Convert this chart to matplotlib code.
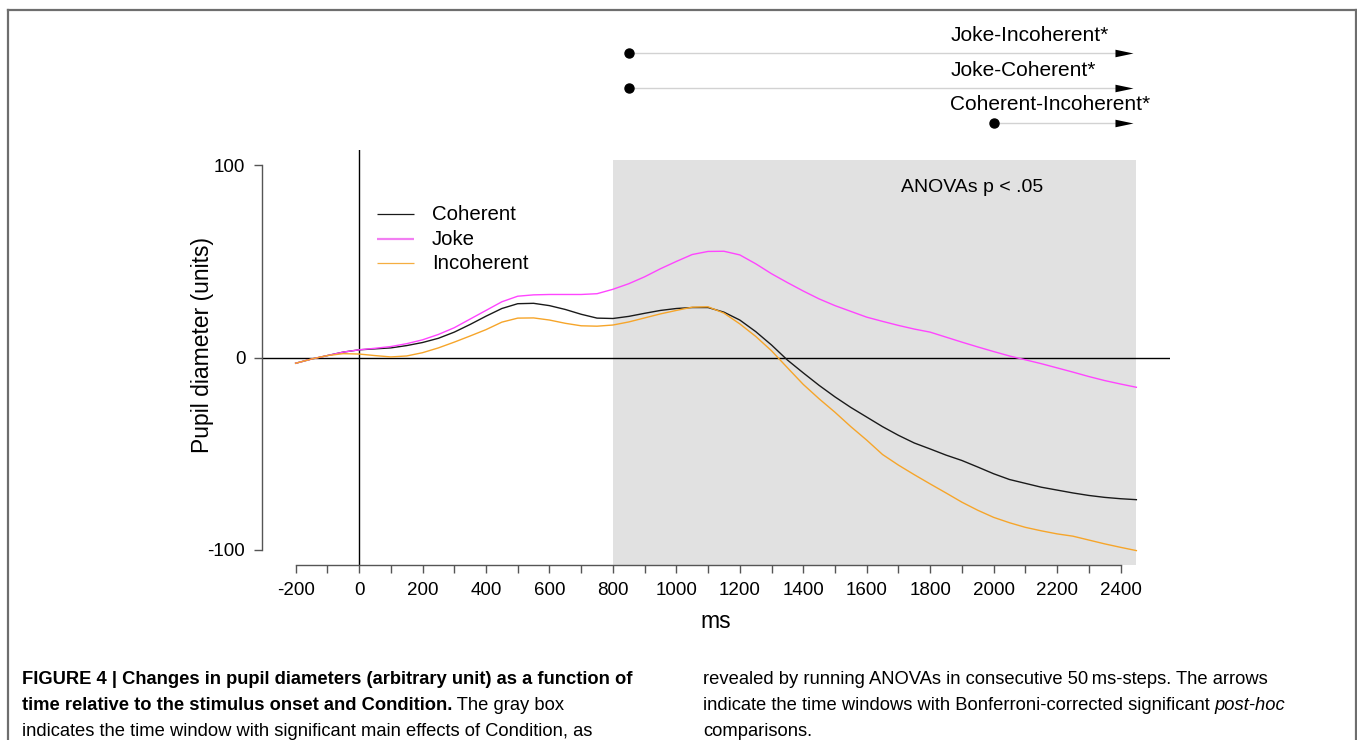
import matplotlib
matplotlib.use("Agg")
import matplotlib.pyplot as plt
from matplotlib.patches import Rectangle
from matplotlib.lines import Line2D

plt.rcParams["font.family"] = ["Liberation Sans", "DejaVu Sans"]
plt.rcParams["axes.unicode_minus"] = False

# time axis (ms) and mean pupil diameter per condition
time_ms = list(range(-200, 2451, 50))

coherent = [-3.0, -0.8, 1.0, 2.8, 4.0, 4.5, 5.0, 6.2, 7.8, 10.0,
            13.2, 17.2, 21.5, 25.5, 28.0, 28.2, 27.0, 25.0, 22.5, 20.5,
            20.3, 21.4, 23.0, 24.5, 25.5, 26.0, 26.0, 23.6, 19.5, 13.5,
            6.5, -1.3, -8.0, -14.5, -20.5, -26.0, -31.0, -36.0, -40.5, -44.5,
            -47.6, -50.8, -53.6, -57.0, -60.5, -63.5, -65.5, -67.5, -69.0, -70.5,
            -71.8, -72.8, -73.5, -74.0]

joke = [-3.0, -0.8, 1.0, 2.8, 4.0, 4.8, 5.7, 7.2, 9.2, 12.0,
        15.5, 20.0, 24.5, 29.0, 31.9, 32.6, 32.8, 32.8, 32.8, 33.2,
        35.5, 38.4, 42.0, 46.2, 50.0, 53.6, 55.2, 55.3, 53.4, 48.8,
        43.6, 39.0, 34.6, 30.5, 27.0, 24.0, 21.0, 18.8, 16.7, 14.8,
        13.2, 10.6, 8.0, 5.5, 3.1, 0.8, -1.2, -3.2, -5.4, -7.6,
        -9.9, -12.0, -13.8, -15.5]

incoherent = [-3.0, -0.8, 1.0, 2.0, 1.8, 1.0, 0.3, 0.8, 2.5, 5.0,
              8.0, 11.2, 14.5, 18.4, 20.5, 20.6, 19.5, 17.8, 16.5, 16.3,
              16.9, 18.5, 20.6, 22.7, 24.5, 26.2, 26.4, 23.1, 17.5, 11.0,
              3.5, -5.3, -14.0, -21.5, -28.5, -36.0, -43.0, -50.5, -56.0, -61.0,
              -65.8, -70.5, -75.3, -79.5, -83.2, -86.0, -88.4, -90.2, -91.8, -93.0,
              -95.0, -97.0, -98.8, -100.5]

series_names = ["Coherent", "Joke", "Incoherent"]
series_colors = ["#1a1a1a", "#FF45FF", "#F6A52A"]

# significant ANOVA window and post-hoc comparison windows
anova_window = (800, 2450)
posthoc_labels = ["Joke-Incoherent*", "Joke-Coherent*", "Coherent-Incoherent*"]
posthoc_starts = [850, 850, 2000]
posthoc_end = 2450

x_ticks = list(range(-200, 2401, 100))
x_ticklabels = [str(t) if t % 200 == 0 else "" for t in x_ticks]
y_ticks = [-100, 0, 100]

W, H = 1357, 740
fig = plt.figure(figsize=(W / 100, H / 100), dpi=100)


def fx(px):
    return px / W


def fy(py):
    return 1 - py / H


ax = fig.add_axes([fx(262), fy(565), fx(1170) - fx(262), (565 - 150) / H])
ax.set_xlim(-306, 2556)
ax.set_ylim(-108, 108)

# gray box: window with significant main effect of Condition
ax.add_patch(Rectangle((anova_window[0], -108), anova_window[1] - anova_window[0],
                       103 + 108, facecolor="#E1E1E1", edgecolor="none", zorder=0))
ax.text(1932, 88.5, "ANOVAs p < .05", fontsize=14, ha="center", va="center")

ax.axhline(0, color="black", lw=1.0, zorder=1)
ax.axvline(0, color="black", lw=1.0, zorder=1)

for name, vals, col in zip(series_names, [coherent, joke, incoherent], series_colors):
    ax.plot(time_ms, vals, color=col, lw=1.0, zorder=3)

# legend drawn as short line samples with labels
leg_y = [74.5, 61.5, 49.0]
leg_lw = [0.9, 1.6, 0.9]
leg_cols = ["#1a1a1a", "#F27EF2", "#F5AE40"]
for name, yv, col, lw in zip(series_names, leg_y, leg_cols, leg_lw):
    ax.plot([57, 173], [yv, yv], color=col, lw=lw, solid_capstyle="butt")
    ax.text(229, yv, name, fontsize=14.7, ha="left", va="center")

# axes in the style of base graphics: detached ranges
for s in ["top", "right"]:
    ax.spines[s].set_visible(False)
ax.spines["bottom"].set_bounds(-200, 2400)
ax.spines["left"].set_bounds(-100, 100)
for s in ["bottom", "left"]:
    ax.spines[s].set_color("#555555")
    ax.spines[s].set_linewidth(1.0)
ax.set_xticks(x_ticks)
ax.set_xticklabels(x_ticklabels)
ax.set_yticks(y_ticks)
ax.set_yticklabels([str(v) for v in y_ticks])
ax.tick_params(axis="both", length=6, width=1.0, color="#555555", labelsize=13.5, pad=6)
ax.patch.set_visible(False)

fig.text(fx(203), fy(345), "Pupil diameter (units)", rotation=90, fontsize=16.5,
         ha="center", va="center")
fig.text(fx(716), fy(622), "ms", fontsize=16.5, ha="center", va="center")

# post-hoc comparison arrows above the plot
arrow_y = [158.3, 140.1, 121.9]
label_y = [167.7, 149.5, 131.8]
head = [(-1.0, -0.42), (1.0, 0.0), (-1.0, 0.42), (-1.0, -0.42)]
for lab, x0, ya, yl in zip(posthoc_labels, posthoc_starts, arrow_y, label_y):
    ax.plot([x0, posthoc_end - 30], [ya, ya], color="#D2D2D2", lw=1.0, clip_on=False)
    ax.plot([x0], [ya], "o", color="black", ms=6.5, clip_on=False)
    ax.plot([posthoc_end - 40], [ya], marker=head, color="black", ms=13, clip_on=False,
            markeredgewidth=0, linestyle="none")
    ax.text(1863, yl, lab, fontsize=15, ha="left", va="center", clip_on=False)

# figure frame
frame_col = "#6e6e6e"
fig.add_artist(Line2D([fx(8), fx(1356)], [fy(10), fy(10)], color=frame_col, lw=1.6))
fig.add_artist(Line2D([fx(8), fx(8)], [fy(10), 0], color=frame_col, lw=1.6))
fig.add_artist(Line2D([fx(1355.5), fx(1355.5)], [fy(10), 0], color=frame_col, lw=1.6))

# caption in two columns with mixed styles
cap_size = 13.2
fig.canvas.draw()
renderer = fig.canvas.get_renderer()


def run_text(px, py, parts):
    x = px
    for txt, weight, style in parts:
        t = fig.text(fx(x), fy(py), txt, fontsize=cap_size, fontweight=weight,
                     fontstyle=style, ha="left", va="baseline")
        bb = t.get_window_extent(renderer=renderer)
        x += bb.width


base = [684, 710.5, 736.5]
run_text(22, base[0], [("FIGURE 4 | Changes in pupil diameters (arbitrary unit) as a function of", "bold", "normal")])
run_text(22, base[1], [("time relative to the stimulus onset and Condition.", "bold", "normal"),
                       (" The gray box", "normal", "normal")])
run_text(22, base[2], [("indicates the time window with significant main effects of Condition, as", "normal", "normal")])
run_text(703, base[0], [("revealed by running ANOVAs in consecutive 50\u2009ms-steps. The arrows", "normal", "normal")])
run_text(703, base[1], [("indicate the time windows with Bonferroni-corrected significant ", "normal", "normal"),
                        ("post-hoc", "normal", "italic")])
run_text(703, base[2], [("comparisons.", "normal", "normal")])

fig.savefig("out.png", dpi=100)
